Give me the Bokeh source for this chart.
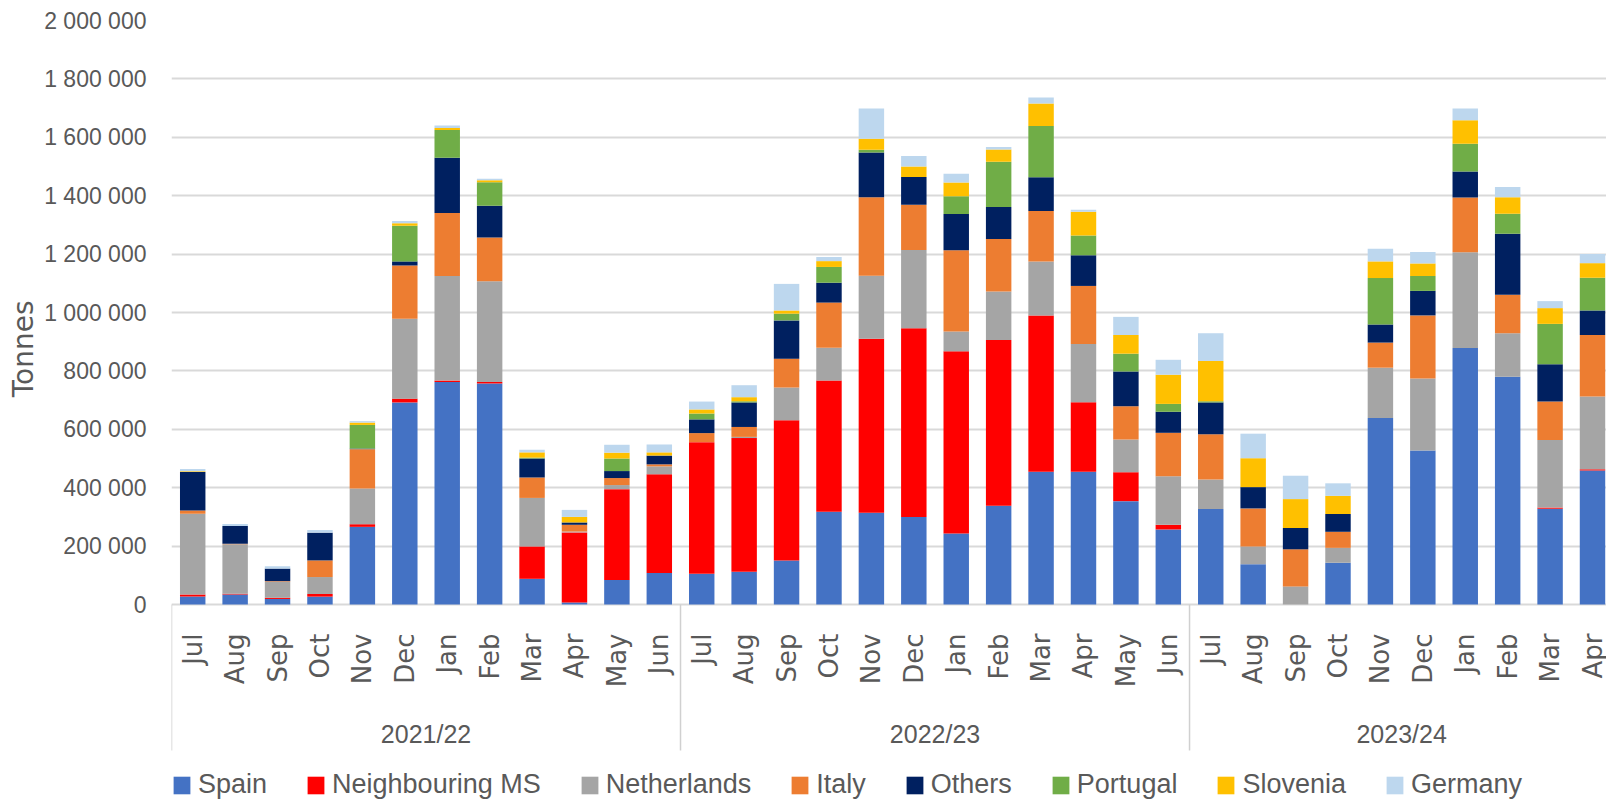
import numpy as np
from bokeh.plotting import figure
from bokeh.models import Range1d, FixedTicker, Legend, LegendItem, ColumnDataSource
from bokeh.core.properties import value
from bokeh.embed import file_html
from bokeh.resources import INLINE

# ---------------- data (thousand tonnes) ----------------
months = ["Jul", "Aug", "Sep", "Oct", "Nov", "Dec", "Jan", "Feb", "Mar", "Apr", "May", "Jun",
          "Jul", "Aug", "Sep", "Oct", "Nov", "Dec", "Jan", "Feb", "Mar", "Apr", "May", "Jun",
          "Jul", "Aug", "Sep", "Oct", "Nov", "Dec", "Jan", "Feb", "Mar", "Apr"]
seasons = ["2021/22", "2022/23", "2023/24"]
season_lengths = [12, 12, 10]

series = ["Spain", "Neighbouring MS", "Netherlands", "Italy", "Others", "Portugal", "Slovenia", "Germany"]
colors = ["#4472C4", "#FF0000", "#A5A5A5", "#ED7D31", "#002060", "#70AD47", "#FFC000", "#BDD7EE"]

spain = [27, 34, 19, 27, 266, 692, 762, 757, 88, 7, 84, 108,
         105, 112, 151, 318, 314, 300, 243, 338, 455, 455, 354, 257,
         327, 138, 0, 143, 639, 527, 878, 780, 328, 459]
neighbouring = [7, 3, 4, 9, 9, 13, 5, 5, 111, 240, 311, 338,
                451, 458, 480, 449, 596, 646, 624, 568, 535, 238, 99, 16,
                0, 0, 0, 0, 0, 0, 0, 0, 4, 4]
netherlands = [277, 169, 55, 58, 122, 274, 358, 345, 166, 3, 14, 27,
               0, 4, 112, 112, 216, 268, 68, 166, 185, 199, 112, 166,
               101, 61, 62, 51, 172, 247, 328, 149, 231, 249]
italy = [11, 2, 2, 57, 135, 182, 216, 150, 70, 23, 24, 7,
         31, 34, 99, 155, 269, 155, 278, 180, 173, 199, 114, 149,
         155, 130, 127, 55, 86, 216, 188, 132, 132, 211]
others = [132, 61, 43, 95, 2, 14, 189, 109, 65, 8, 24, 30,
          47, 84, 131, 68, 153, 95, 124, 109, 115, 105, 119, 72,
          109, 73, 73, 61, 62, 84, 89, 209, 128, 84]
portugal = [0, 0, 0, 0, 81, 122, 95, 80, 3, 0, 43, 0,
            20, 4, 23, 54, 9, 0, 61, 155, 176, 68, 61, 27,
            4, 0, 0, 0, 159, 51, 95, 68, 138, 112]
slovenia = [2, 0, 0, 0, 8, 9, 7, 7, 18, 19, 20, 11,
            14, 14, 11, 20, 38, 36, 47, 42, 77, 81, 64, 100,
            138, 99, 99, 62, 57, 43, 80, 57, 54, 50]
germany = [8, 7, 8, 9, 5, 7, 8, 5, 9, 24, 27, 27,
           27, 41, 91, 14, 104, 36, 30, 9, 20, 7, 62, 51,
           95, 84, 80, 43, 43, 39, 41, 35, 24, 31]

y_ticks = [0, 200000, 400000, 600000, 800000, 1000000, 1200000, 1400000, 1600000, 1800000, 2000000]
y_tick_labels = ["0", "200 000", "400 000", "600 000", "800 000", "1 000 000",
                 "1 200 000", "1 400 000", "1 600 000", "1 800 000", "2 000 000"]

# ---------------- layout constants (page pixels) ----------------
W, H = 1606, 804
LEFT, TOP = 171, 20
ZERO_PX = 604                      # pixel row of the value 0
Y_MAX = 2000000
PX = Y_MAX / (ZERO_PX - TOP)       # data units per pixel (vertical)
Y_MIN = -(H - ZERO_PX) * PX
X0, X1 = -0.5, 33.33
TITLE_END = 300                    # pixel row where the rotated "Tonnes" ends

SANS = "Liberation Sans"
WIDE = "DejaVu Sans"
TXT = "#595959"
GRID = "#d9d9d9"

x = list(range(len(months)))
values = [spain, neighbouring, netherlands, italy, others, portugal, slovenia, germany]
data = {"x": x, "month": months}
for name, vals in zip(series, values):
    data[name] = [v * 1000 for v in vals]
source = ColumnDataSource(data)

bounds = [float(b) for b in (np.cumsum([0] + season_lengths) - 0.5)]
season_centers = [bounds[i] + season_lengths[i] / 2 for i in range(len(seasons))]

p = figure(width=W, height=H, title="Tonnes", title_location="left",
           x_range=Range1d(X0, X1), y_range=Range1d(Y_MIN, Y_MAX),
           x_axis_location=None, output_backend="svg", toolbar_location=None,
           min_border_left=LEFT, min_border_right=0, min_border_top=TOP, min_border_bottom=0)
p.outline_line_color = None
p.xgrid.visible = False

# axis title (a left-side plot title so that it can be placed vertically)
p.title.align = "right"
p.title.offset = TITLE_END - TOP
p.title.standoff = 4
p.title.text_font = WIDE
p.title.text_font_size = "28px"
p.title.text_font_style = "normal"
p.title.text_color = TXT

renderers = p.vbar_stack(series, x="x", width=0.6, source=source,
                         fill_color=colors, line_color=None)

# y axis
p.yaxis.ticker = FixedTicker(ticks=y_ticks)
p.yaxis.major_label_overrides = dict(zip(y_ticks, y_tick_labels))
p.yaxis.axis_line_color = None
p.yaxis.major_tick_line_color = None
p.yaxis.minor_tick_line_color = None
p.yaxis.major_label_standoff = 19
p.yaxis.major_label_text_font = SANS
p.yaxis.major_label_text_font_size = "23px"
p.yaxis.major_label_text_color = TXT
p.ygrid.grid_line_color = GRID
p.ygrid.grid_line_width = 2

# category axis drawn below zero
p.text(x="x", y=-29 * PX, text="month", source=source, angle=np.pi / 2,
       text_align="right", text_baseline="middle",
       text_font=value(WIDE), text_font_size="26px", text_color=TXT)
p.segment(x0=bounds, y0=0, x1=bounds, y1=-146 * PX, line_color="#d0d0d0", line_width=1.5)
p.text(x=season_centers, y=[-129 * PX] * len(seasons), text=seasons,
       text_align="center", text_baseline="middle",
       text_font=value(SANS), text_font_size="25px", text_color=TXT)

legend = Legend(items=[LegendItem(label=s, renderers=[r]) for s, r in zip(series, renderers)],
                orientation="horizontal", location=(0, 4),
                label_text_font=SANS, label_text_font_size="27px", label_text_color=TXT,
                glyph_width=21, glyph_height=22, label_standoff=6, spacing=38,
                padding=0, margin=0, border_line_color=None, background_fill_alpha=0)
p.add_layout(legend, "center")

open("out.html", "w").write(file_html(p, INLINE))
